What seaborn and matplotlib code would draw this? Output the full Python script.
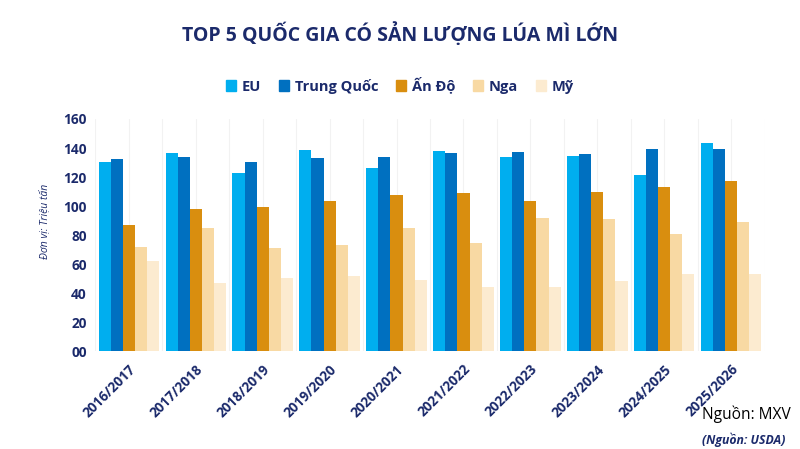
import pandas as pd
import matplotlib
matplotlib.use("Agg")
import matplotlib.pyplot as plt
import seaborn as sns

# Data (million tonnes)
seasons = ["2016/2017", "2017/2018", "2018/2019", "2019/2020", "2020/2021",
           "2021/2022", "2022/2023", "2023/2024", "2024/2025", "2025/2026"]
countries = ["EU", "Trung Quốc", "Ấn Độ", "Nga", "Mỹ"]
eu = [130.3, 136.3, 122.8, 138.4, 126.0, 137.9, 134.0, 134.7, 121.6, 143.2]
trung_quoc = [132.6, 133.6, 130.6, 132.9, 133.6, 136.3, 137.2, 136.1, 139.5, 139.5]
an_do = [86.7, 97.9, 99.3, 103.2, 107.4, 109.0, 103.5, 109.9, 112.9, 117.2]
nga = [72.0, 84.8, 71.3, 73.1, 84.8, 74.7, 91.5, 91.0, 80.9, 88.7]
my = [62.3, 46.9, 50.6, 51.9, 48.7, 44.1, 44.1, 48.3, 53.1, 53.3]

colors = ["#00AEEF", "#0070C0", "#D98E0F", "#F8D9A3", "#FCEBD0"]
navy = "#1B2A6B"

df = pd.DataFrame({"EU": eu, "Trung Quốc": trung_quoc, "Ấn Độ": an_do,
                   "Nga": nga, "Mỹ": my}, index=seasons)
long_df = df.reset_index(names="season").melt(id_vars="season", var_name="country",
                                               value_name="value")

sns.set_theme(style="white")
plt.rcParams["font.family"] = ["Open Sans", "DejaVu Sans"]

fig = plt.figure(figsize=(8, 4.49), dpi=100)
ax = fig.add_axes([0.119, 0.218, 0.837, 0.517])

sns.barplot(data=long_df, x="season", y="value", hue="country",
            hue_order=countries, palette=colors, width=0.9, gap=0,
            linewidth=0, saturation=1, ax=ax, legend=False)

ax.set_xlim(-0.5, len(seasons) - 0.5)
ax.set_ylim(0, 160)
ax.set_yticks(range(0, 161, 20))
ax.set_yticklabels([f"{v:02d}" for v in range(0, 161, 20)],
                   fontsize=9.8, fontweight="bold", color=navy)
ax.set_xticks(range(len(seasons)))
ax.set_xticklabels(seasons, rotation=45, ha="right", rotation_mode="anchor",
                   fontsize=9.8, fontweight="bold", color=navy)
ax.tick_params(axis="both", length=0, pad=6)
ax.tick_params(axis="x", pad=8)

# faint vertical guides at group centres and boundaries
for xv in [i * 0.5 - 0.5 for i in range(2 * len(seasons) + 1)]:
    ax.axvline(xv, color="#F2F2F2", linewidth=0.8, zorder=0)

sns.despine(ax=ax, left=True, bottom=True)
ax.set_xlabel("")
ax.set_ylabel("Đơn vị: Triệu tấn", fontsize=7.5, style="italic", color=navy,
              labelpad=13)
ax.yaxis.set_label_coords(-0.068, 0.56)

fig.text(0.5, 0.925, "TOP 5 QUỐC GIA CÓ SẢN LƯỢNG LÚA MÌ LỚN", ha="center",
         va="center", fontsize=14, fontweight="bold", color=navy)

handles = [plt.Rectangle((0, 0), 1, 1, color=c) for c in colors]
fig.legend(handles, countries, loc="center", bbox_to_anchor=(0.5, 0.81), ncol=5,
           frameon=False, handlelength=0.7, handleheight=0.7, handletextpad=0.4,
           columnspacing=1.2, prop={"size": 10.5, "weight": "bold"},
           labelcolor=navy)

fig.text(0.988, 0.078, "Nguồn: MXV", ha="right", va="center", fontsize=11.2,
         color="black")
fig.text(0.982, 0.02, "(Nguồn: USDA)", ha="right", va="center", fontsize=8.8,
         fontweight="bold", style="italic", color=navy)

fig.savefig("out.png", dpi=100)
